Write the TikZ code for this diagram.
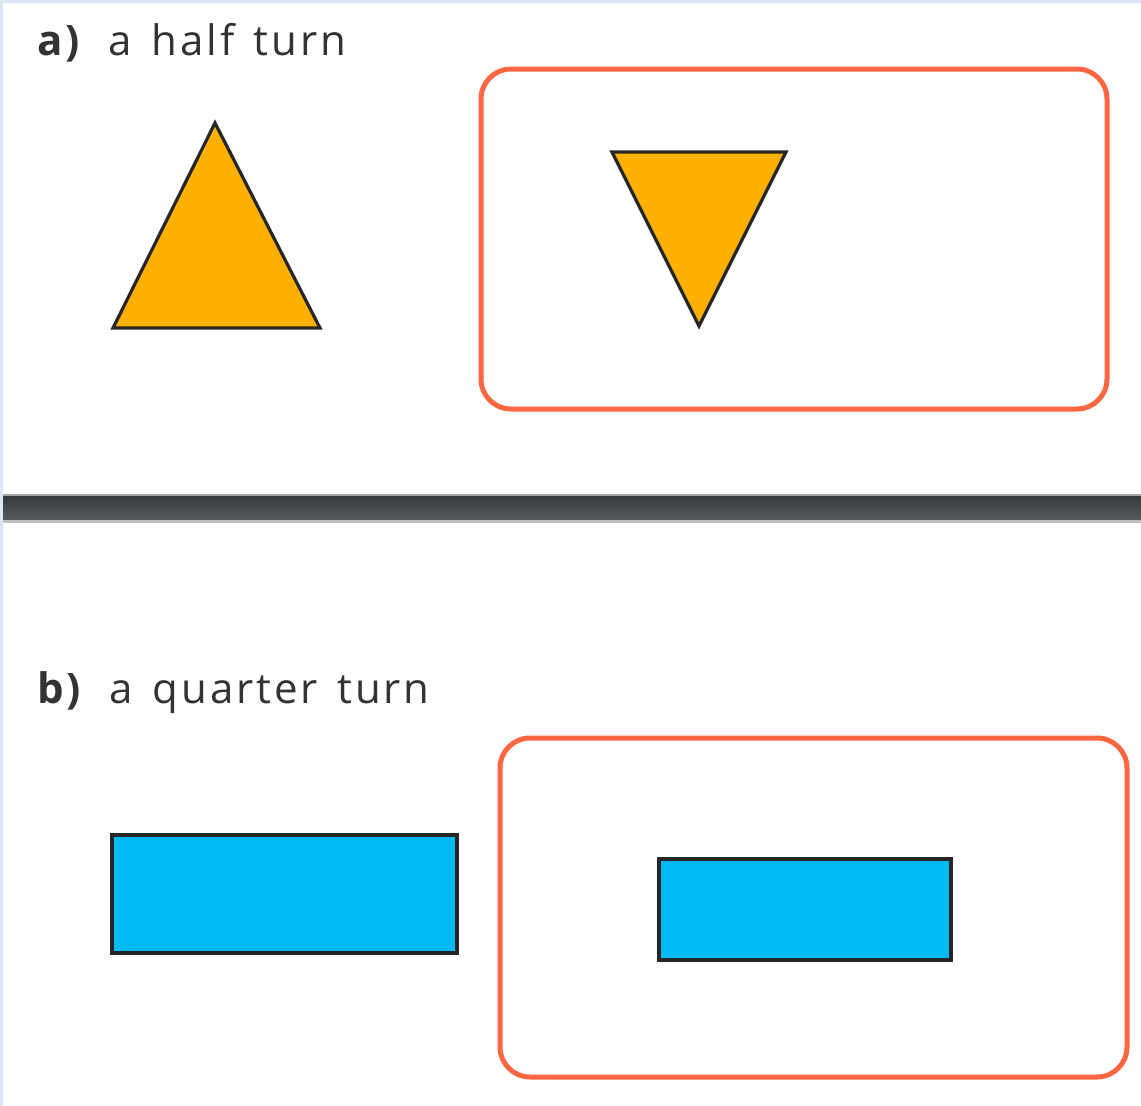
\documentclass[tikz,border=0pt]{standalone}
\usepackage{fontspec}
\setmainfont{Open Sans}[LetterSpace=7,WordSpace=1.4]
\definecolor{frame}{HTML}{DCE6F5}
\definecolor{redbox}{HTML}{FF6642}
\definecolor{amber}{HTML}{FFB000}
\definecolor{cyanfill}{HTML}{00BAF5}
\definecolor{txt}{HTML}{333333}
\definecolor{bartop}{HTML}{36393C}
\definecolor{barbot}{HTML}{555A5D}
\begin{document}
\begin{tikzpicture}[x=1pt,y=-1pt,
  answerbox/.style={draw=redbox,line width=5pt,rounded corners=30pt},
  shapeline/.style={draw=black!85,line width=3.2pt,line join=miter},
  label/.style={anchor=base west,inner sep=0pt,text=txt,font=\fontsize{42}{50}\selectfont}]
\useasboundingbox (0,0) rectangle (1141,1106);
\fill[white] (0,0) rectangle (1141,1106);
\fill[frame] (0,0) rectangle (1141,3);
\fill[frame] (0,0) rectangle (3,1106);
% bar
\shade[top color=bartop,bottom color=barbot] (3,495) rectangle (1141,520);
\fill[gray!50] (3,520) rectangle (1141,523);
\fill[gray!70] (3,494) rectangle (1141,496);
% labels
\node[label] (la) at (37,55) {\textbf{a)}\hspace{0.62em}a half turn};
\node[label] (lb) at (37,703) {\textbf{b)}\hspace{0.62em}a quarter turn};
% part a
\draw[shapeline,fill=amber] (215,123) -- (320,328) -- (113,328) -- cycle;
\draw[answerbox] (481,69) rectangle (1107,409);
\draw[shapeline,fill=amber] (612,152) -- (786,152) -- (699,326) -- cycle;
% part b
\draw[shapeline,fill=cyanfill] (112,835) rectangle (457,953);
\draw[answerbox] (500,738) rectangle (1127,1077);
\draw[shapeline,fill=cyanfill] (659,859) rectangle (951,960);
\end{tikzpicture}
\end{document}
